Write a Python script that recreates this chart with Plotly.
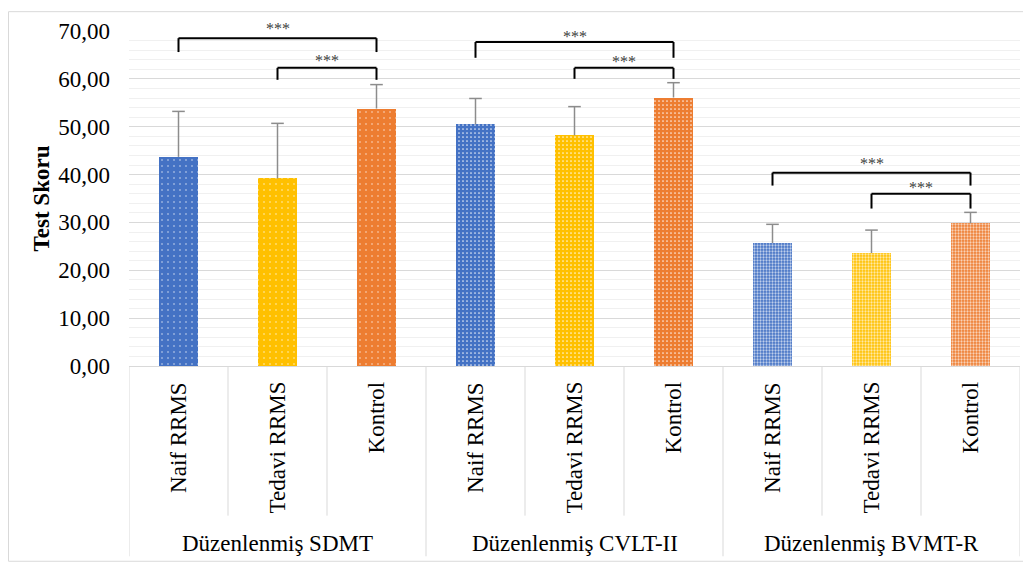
import plotly.graph_objects as go

groups = ["Düzenlenmiş SDMT", "Düzenlenmiş CVLT-II", "Düzenlenmiş BVMT-R"]
subgroups = ["Naif RRMS", "Tedavi RRMS", "Kontrol"]
means = {
    "Düzenlenmiş SDMT": [43.7, 39.2, 53.8],
    "Düzenlenmiş CVLT-II": [50.5, 48.2, 56.1],
    "Düzenlenmiş BVMT-R": [25.7, 23.6, 29.8],
}
errors_up = {
    "Düzenlenmiş SDMT": [9.5, 11.5, 5.0],
    "Düzenlenmiş CVLT-II": [5.4, 6.0, 3.1],
    "Düzenlenmiş BVMT-R": [3.9, 4.8, 2.3],
}
sig_label = "***"
colors = ["#4472C4", "#FFC000", "#ED7D31"]
tick_vals = [0, 10, 20, 30, 40, 50, 60, 70]
tick_text = ["0,00", "10,00", "20,00", "30,00", "40,00", "50,00", "60,00", "70,00"]

# style (not data)
patterns = [dict(size=6, solidity=0.04, op=0.9), dict(size=4, solidity=0.14, op=0.85),
            dict(size=3, solidity=0.45, op=0.65)]
# bracket layout: (group index, from subgroup, to subgroup, top y, leg bottom y, label y)
brackets = [
    (0, 0, 2, 68.5, 65.6, 70.6), (0, 1, 2, 62.3, 59.8, 63.9),
    (1, 0, 2, 67.7, 64.4, 68.8), (1, 1, 2, 62.3, 60.0, 63.7),
    (2, 0, 2, 40.4, 37.7, 42.4), (2, 1, 2, 36.0, 32.9, 37.2),
]
YMAX = 70

FONT = "Liberation Serif, Times New Roman, serif"
OFF = 8  # page body margin offset
W, H = 1031 - OFF, 566 - OFF
L, R, T, B = 129 - OFF, 11, 28 - OFF, 200
ph = H - T - B
pw = W - L - R
ERR_COLOR = "#8c8c8c"


def py(p):  # reference pixel y -> paper y
    return (H - B - (p - OFF)) / ph


def px(p):  # reference pixel x -> paper x
    return ((p - OFF) - L) / pw


fig = go.Figure()
n = len(subgroups)
ex, ey, cx, cy = [], [], [], []
for gi, g in enumerate(groups):
    for k in range(n):
        x = gi * n + k
        m = means[g][k]
        e = errors_up[g][k]
        fig.add_trace(go.Bar(
            x=[x], y=[m], width=0.4,
            marker=dict(color=colors[k], line=dict(width=0),
                        pattern=dict(shape=".", fgcolor="white",
                                     fgopacity=patterns[gi]["op"], fillmode="overlay",
                                     size=patterns[gi]["size"], solidity=patterns[gi]["solidity"])),
            showlegend=False, hoverinfo="skip",
        ))
        ex += [x, x, None]
        ey += [m, m + e, None]
        cx.append(x)
        cy.append(m + e)

# upper error bars (stem + cap)
fig.add_trace(go.Scatter(x=ex, y=ey, mode="lines", line=dict(color=ERR_COLOR, width=1.5),
                         showlegend=False, hoverinfo="skip", cliponaxis=False))
fig.add_trace(go.Scatter(x=cx, y=cy, mode="markers",
                         marker=dict(symbol="line-ew-open", size=9, color=ERR_COLOR,
                                     line=dict(color=ERR_COLOR, width=1.5)),
                         showlegend=False, hoverinfo="skip", cliponaxis=False))

shapes = []
annotations = []
# brackets
for gi, a, b, top, leg, ly in brackets:
    x0 = gi * n + a
    x1 = gi * n + b
    for (xa, ya, xb, yb) in [(x0, leg, x0, top), (x0, top, x1, top), (x1, top, x1, leg)]:
        shapes.append(dict(type="line", xref="x", yref="paper", x0=xa, x1=xb,
                           y0=ya / YMAX, y1=yb / YMAX, line=dict(color="black", width=2)))
    annotations.append(dict(x=(x0 + x1) / 2, y=ly / YMAX, xref="x", yref="paper", text=sig_label,
                            showarrow=False, font=dict(family=FONT, size=16, color="#404040"),
                            yanchor="middle"))

# category labels and separators
total = len(groups) * n
for i in range(total):
    annotations.append(dict(x=i, y=py(380), xref="x", yref="paper", text=subgroups[i % n],
                            textangle=-90, showarrow=False, yanchor="top", xanchor="center",
                            font=dict(family=FONT, size=23, color="black")))
for i in range(total + 1):
    xb = i - 0.5
    bottom = py(558) if i % n == 0 else py(517)
    shapes.append(dict(type="line", xref="x", yref="paper", x0=xb, x1=xb, y0=0, y1=bottom,
                       line=dict(color="#d9d9d9", width=1)))
for gi, g in enumerate(groups):
    annotations.append(dict(x=gi * n + 1, y=py(545), xref="x", yref="paper", text=g,
                            showarrow=False, yanchor="middle",
                            font=dict(family=FONT, size=23, color="black")))

# outer border
shapes.append(dict(type="rect", xref="paper", yref="paper", x0=px(8.5), x1=px(1027),
                   y0=py(563), y1=py(8.5), line=dict(color="#d9d9d9", width=1)))

fig.update_layout(
    width=W, height=H, margin=dict(l=L, r=R, t=T, b=B),
    plot_bgcolor="white", paper_bgcolor="white", barmode="overlay",
    shapes=shapes, annotations=annotations, bargap=0,
    font=dict(family=FONT, size=23, color="black"),
)
fig.update_xaxes(range=[-0.5, total - 0.5], showticklabels=False, showgrid=False,
                 zeroline=False, showline=True, linecolor="#d9d9d9", linewidth=1, fixedrange=True)
fig.update_yaxes(range=[0, YMAX], tickvals=tick_vals, ticktext=tick_text,
                 showgrid=True, gridcolor="#d9d9d9", gridwidth=1,
                 minor=dict(dtick=2, showgrid=True, gridcolor="#f0f0f0", gridwidth=1),
                 zeroline=False, ticks="", ticklabelstandoff=18,
                 tickfont=dict(family=FONT, size=23, color="black"),
                 title=dict(text="<b>Test Skoru</b>", font=dict(family=FONT, size=23, color="black"),
                            standoff=2),
                 fixedrange=True)

fig.write_html("out.html")
